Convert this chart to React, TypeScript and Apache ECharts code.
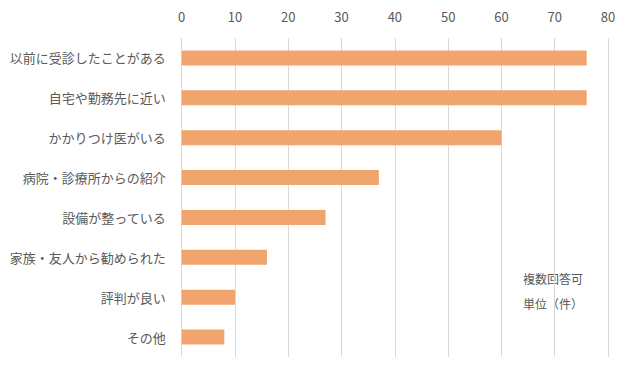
import React, { useEffect, useRef } from "react";
import * as echarts from "echarts";

const categories = [
  "以前に受診したことがある",
  "自宅や勤務先に近い",
  "かかりつけ医がいる",
  "病院・診療所からの紹介",
  "設備が整っている",
  "家族・友人から勧められた",
  "評判が良い",
  "その他",
];
const values = [76, 76, 60, 37, 27, 16, 10, 8];
const noteLines = ["複数回答可", "単位（件）"];

const FONT = "'Noto Sans CJK JP', 'Noto Sans', sans-serif";
const TEXT = "#595959";

export default function App() {
  const ref = useRef<HTMLDivElement>(null);
  useEffect(() => {
    document.body.style.margin = "0";
    const chart = echarts.init(ref.current!, null, { renderer: "svg" });
    chart.setOption({
      animation: false,
      backgroundColor: "#ffffff",
      textStyle: { fontFamily: FONT },
      grid: { left: 181.7, right: 24, top: 38, bottom: 14 },
      xAxis: {
        type: "value",
        position: "top",
        min: 0,
        max: 80,
        interval: 10,
        axisLine: { show: false },
        axisTick: { show: false },
        axisLabel: { color: TEXT, fontSize: 13, margin: 15, fontFamily: FONT },
        splitLine: { show: true, lineStyle: { color: "#d9d9d9", width: 1 } },
      },
      yAxis: {
        type: "category",
        data: categories,
        inverse: true,
        axisLine: { show: false },
        axisTick: { show: false },
        axisLabel: { color: TEXT, fontSize: 13, margin: 16, fontFamily: FONT },
        splitLine: { show: false },
      },
      series: [
        {
          type: "bar",
          data: values,
          barWidth: 15,
          itemStyle: { color: "#F1A46E" },
        },
      ],
      graphic: noteLines.map((t, i) => ({
        type: "text",
        left: 523,
        top: 272 + i * 25,
        style: { text: t, fill: TEXT, fontSize: 12, fontFamily: FONT },
      })),
    });
    return () => chart.dispose();
  }, []);
  return <div ref={ref} style={{ width: 632, height: 371 }} />;
}
